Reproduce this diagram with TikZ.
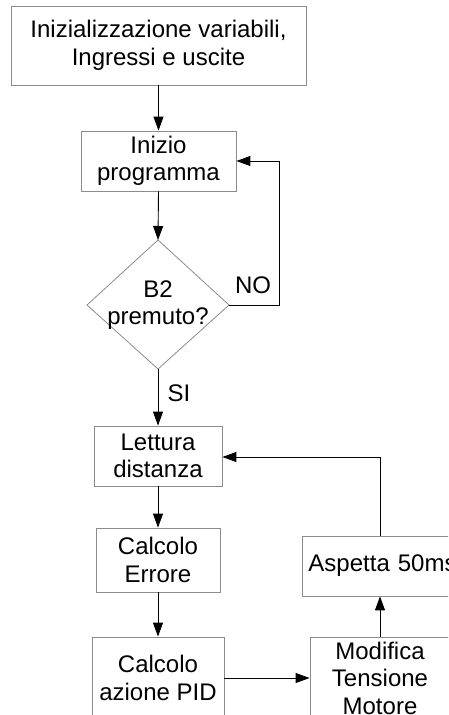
\documentclass[tikz,border=0pt]{standalone}
\usepackage{fontspec}
\setmainfont{Liberation Sans}
\usetikzlibrary{arrows.meta}
\begin{document}
\begin{tikzpicture}[x=1pt,y=-1pt,
  box/.style={draw=black!45,line width=0.8pt,fill=white,align=center,inner sep=0pt,font=\fontsize{24}{27.5}\selectfont},
  txt/.style={inner sep=0pt,align=center,font=\fontsize{24}{27.5}\selectfont},
  conn/.style={line width=0.9pt,-{Triangle[length=14pt,width=10pt]}},
  plain/.style={line width=0.9pt}]
\useasboundingbox (0,0) rectangle (448,715);
\clip (0,0) rectangle (448,715);
\node[box,minimum width=295pt,minimum height=79pt] (init) at (158.5,45.5) {Inizializzazione variabili,\\Ingressi e uscite};
\node[box,minimum width=155pt,minimum height=60pt] (start) at (158.5,161) {Inizio\\programma};
\coordinate (dt) at (158,240);
\coordinate (dl) at (87,305);
\coordinate (dr) at (229,305);
\coordinate (db) at (158,369);
\draw[draw=black!45,line width=0.8pt] (dt) -- (dr) -- (db) -- (dl) -- cycle;
\node[txt] (dec) at (158,305) {B2\\premuto?};
\node[box,minimum width=128pt,minimum height=60pt] (read) at (158,456) {Lettura\\distanza};
\node[box,minimum width=124pt,minimum height=64pt] (err) at (158,560) {Calcolo\\Errore};
\node[box,minimum width=132pt,minimum height=82pt] (pid) at (158,678) {Calcolo\\azione PID};
\node[box,minimum width=140pt,minimum height=82pt] (mot) at (380,678) {Modifica\\Tensione\\Motore};
\node[box,minimum width=156pt,minimum height=60pt,text width=156pt] (wait) at (380,566) {\hspace*{5pt}Aspetta 50ms\hfill};
\node[txt] (no) at (253,285) {NO};
\node[txt] (si) at (179,393) {SI};
\coordinate (nr) at (279,305);
\coordinate (nt) at (279,161);
\coordinate (fb) at (380,457);
\draw[conn] (init.south) -- (start.north);
\draw[conn] (start.south) -- (dt);
\draw[conn] (db) -- (read.north);
\draw[conn] (dr) -- (nr) -- (nt) -- (start.east |- nt);
\draw[conn] (read.south) -- (err.north);
\draw[conn] (err.south) -- (pid.north);
\draw[conn] (pid.east) -- (mot.west);
\draw[conn] (mot.north) -- (wait.south);
\draw[conn] (wait.north) -- (fb) -- (read.east |- fb);
\end{tikzpicture}
\end{document}
